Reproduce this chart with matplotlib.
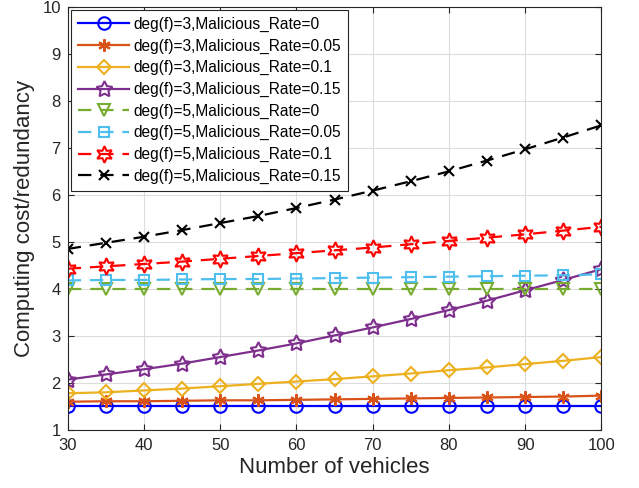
import matplotlib
matplotlib.use('Agg')
import matplotlib.pyplot as plt

plt.rcParams['font.family'] = ['Liberation Sans', 'DejaVu Sans']

vehicles = [30, 35, 40, 45, 50, 55, 60, 65, 70, 75, 80, 85, 90, 95, 100]

d3_r0 = [1.5] * 15
d3_r005 = [1.60, 1.61, 1.61, 1.62, 1.63, 1.63, 1.64, 1.65, 1.66, 1.67, 1.68, 1.69, 1.70, 1.71, 1.73]
d3_r01 = [1.78, 1.80, 1.84, 1.88, 1.93, 1.98, 2.03, 2.08, 2.14, 2.20, 2.27, 2.33, 2.40, 2.47, 2.55]
d3_r015 = [2.07, 2.18, 2.29, 2.41, 2.55, 2.69, 2.84, 3.01, 3.18, 3.36, 3.55, 3.75, 3.97, 4.19, 4.42]
d5_r0 = [4.0] * 15
d5_r005 = [4.18, 4.19, 4.19, 4.20, 4.21, 4.21, 4.22, 4.23, 4.24, 4.25, 4.26, 4.27, 4.28, 4.29, 4.31]
d5_r01 = [4.43, 4.48, 4.53, 4.58, 4.64, 4.70, 4.76, 4.82, 4.88, 4.95, 5.02, 5.09, 5.16, 5.24, 5.32]
d5_r015 = [4.85, 4.98, 5.11, 5.25, 5.40, 5.55, 5.72, 5.90, 6.09, 6.29, 6.50, 6.73, 6.97, 7.22, 7.48]

labels = ['deg(f)=3,Malicious_Rate=0', 'deg(f)=3,Malicious_Rate=0.05',
          'deg(f)=3,Malicious_Rate=0.1', 'deg(f)=3,Malicious_Rate=0.15',
          'deg(f)=5,Malicious_Rate=0', 'deg(f)=5,Malicious_Rate=0.05',
          'deg(f)=5,Malicious_Rate=0.1', 'deg(f)=5,Malicious_Rate=0.15']

series = [d3_r0, d3_r005, d3_r01, d3_r015, d5_r0, d5_r005, d5_r01, d5_r015]
colors = ['#0000ff', '#d95319', '#edb120', '#7e2f8e', '#77ac30', '#4dbeee', '#ff0000', '#000000']
markers = ['o', (6, 2, 0), 'D', (5, 1, 0), 'v', 's', (6, 1, 0), 'x']
msizes = [9, 9, 7.5, 12, 9, 7, 12, 7.5]
styles = ['-', '-', '-', '-', '--', '--', '--', '--']

fig = plt.figure(figsize=(6.39, 4.88), dpi=100)
ax = fig.add_axes([0.106, 0.119, 0.835, 0.867])

for y, c, m, ms, ls, lab in zip(series, colors, markers, msizes, styles, labels):
    ax.plot(vehicles, y, color=c, marker=m, markersize=ms, linestyle=ls,
            linewidth=1.6, markerfacecolor='none', markeredgecolor=c,
            markeredgewidth=1.5, label=lab, dashes=(6, 4) if ls == '--' else (None, None))

ax.set_xlim(30, 100)
ax.set_ylim(1, 10)
ax.set_xticks(range(30, 101, 10))
ax.set_yticks(range(1, 11))
ax.grid(True, color='#dcdcdc', linewidth=0.8)
ax.set_axisbelow(True)
ax.tick_params(direction='in', top=True, right=True, labelsize=12, colors='#262626',
               length=4)
ax.tick_params(axis='x', pad=6)
ax.tick_params(axis='y', pad=5)
for sp in ax.spines.values():
    sp.set_color('#262626')
    sp.set_linewidth(0.8)

ax.set_xlabel('Number of vehicles', fontsize=16, color='#262626', labelpad=3)
ax.set_ylabel('Computing cost/redundancy', fontsize=16, color='#262626', labelpad=5)

leg = ax.legend(loc='upper left', fontsize=11.2, handlelength=3.3, labelspacing=0.42,
                borderpad=0.45, handletextpad=0.25, fancybox=False, framealpha=1,
                edgecolor='#262626', borderaxespad=0.2)
leg.get_frame().set_linewidth(0.8)

plt.savefig('out.png', dpi=100)
